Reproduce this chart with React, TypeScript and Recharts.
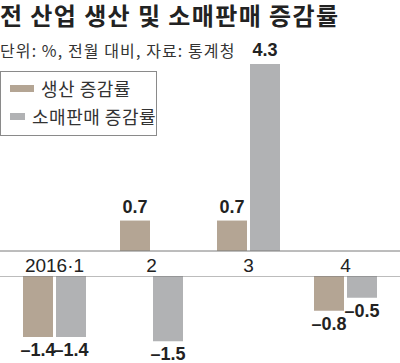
import React from "react";
import {
  Bar,
  BarChart,
  LabelList,
  Legend,
  ReferenceLine,
  XAxis,
  YAxis,
} from "recharts";

const categories = ["2016·1", "2", "3", "4"];
const production = [-1.4, 0.7, 0.7, -0.8];
const retail = [-1.4, -1.5, 4.3, -0.5];

const KR = "'Noto Sans CJK KR', 'Noto Sans', sans-serif";
const NARROW = "'Liberation Sans Narrow', 'Liberation Sans', Arial, sans-serif";
const BROWN = "#b4a594";
const GRAY = "#b1b2b4";
const LINE = "#7a7a7a";

const upData = categories.map((name, i) => ({
  name,
  production: production[i] > 0 ? production[i] : null,
  retail: retail[i] > 0 ? retail[i] : null,
}));

const downData = categories.map((name, i) => ({
  name,
  production: production[i] < 0 ? production[i] : null,
  retail: retail[i] < 0 ? retail[i] : null,
}));

// narrow font has no U+2212, en dash keeps the label width right
const fmt = (v: any) => {
  if (v == null) return "";
  const n = Number(v);
  return n < 0 ? `\u2013${Math.abs(n).toFixed(1)}` : n.toFixed(1);
};

const labelStyle = { fontSize: 18, fontWeight: 700, fill: "#222", fontFamily: NARROW };

function LegendBox({ payload }: any) {
  return (
    <div
      style={{
        width: 155,
        height: 61,
        border: "1px solid #8a8a8a",
        boxSizing: "content-box",
        fontFamily: KR,
        fontSize: 18,
        letterSpacing: 0.5,
        color: "#333",
        paddingTop: 2,
        whiteSpace: "nowrap",
        overflow: "hidden",
      }}
    >
      {(payload ?? []).map((p: any) => (
        <div key={p.value} style={{ display: "flex", alignItems: "center", height: 28 }}>
          <span
            style={{
              display: "inline-block",
              width: 24,
              height: 7,
              background: p.color,
              marginLeft: 9,
              marginRight: 7,
            }}
          />
          <span>{p.value}</span>
        </div>
      ))}
    </div>
  );
}

export default function App() {
  return (
    <div style={{ position: "absolute", left: 0, top: 0, width: 400, height: 363, background: "#fff" }}>
      <BarChart
        width={400}
        height={277}
        data={upData}
        barSize={30}
        barGap={3}
        margin={{ top: 0, right: 0, left: 0, bottom: 0 }}
        style={{ position: "absolute", left: 0, top: 0 }}
      >
        <XAxis
          dataKey="name"
          padding={{ left: 6, right: 6 }}
          tickLine={false}
          axisLine={{ stroke: LINE }}
          height={26}
          interval={0}
          tick={{ fontSize: 19, fill: "#222", fontFamily: NARROW }}
        />
        <YAxis hide domain={[0, 5.77]} allowDataOverflow />
        <Legend
          layout="horizontal"
          verticalAlign="middle"
          align="center"
          content={<LegendBox />}
          wrapperStyle={{ left: 0, top: 71, width: 157 }}
        />
        <Bar dataKey="production" name="생산 증감률" fill={BROWN} isAnimationActive={false}>
          <LabelList dataKey="production" position="top" offset={8} formatter={fmt} style={labelStyle} />
        </Bar>
        <Bar dataKey="retail" name="소매판매 증감률" fill={GRAY} isAnimationActive={false}>
          <LabelList dataKey="retail" position="top" offset={8} formatter={fmt} style={labelStyle} />
        </Bar>
      </BarChart>

      <BarChart
        width={400}
        height={87}
        data={downData}
        barSize={30}
        barGap={3}
        margin={{ top: 0, right: 0, left: 0, bottom: 0 }}
        style={{ position: "absolute", left: 0, top: 276 }}
      >
        <XAxis dataKey="name" hide padding={{ left: 6, right: 6 }} />
        <YAxis hide domain={[-2, 0]} allowDataOverflow />
        <ReferenceLine y={0} stroke={LINE} />
        <Bar dataKey="production" fill={BROWN} isAnimationActive={false}>
          <LabelList dataKey="production" position="top" offset={6} formatter={fmt} style={labelStyle} />
        </Bar>
        <Bar dataKey="retail" fill={GRAY} isAnimationActive={false}>
          <LabelList dataKey="retail" position="top" offset={6} formatter={fmt} style={labelStyle} />
        </Bar>
      </BarChart>

      <div
        style={{
          position: "absolute",
          left: 0,
          top: 1,
          fontFamily: KR,
          fontSize: 24,
          fontWeight: 700,
          letterSpacing: 1.4,
          lineHeight: "28px",
          color: "#222",
          whiteSpace: "nowrap",
        }}
      >
        전 산업 생산 및 소매판매 증감률
      </div>
      <div
        style={{
          position: "absolute",
          left: 0,
          top: 38,
          fontFamily: KR,
          fontSize: 16,
          letterSpacing: 1.1,
          lineHeight: "24px",
          color: "#333",
          whiteSpace: "nowrap",
        }}
      >
        단위: %, 전월 대비, 자료: 통계청
      </div>
    </div>
  );
}
